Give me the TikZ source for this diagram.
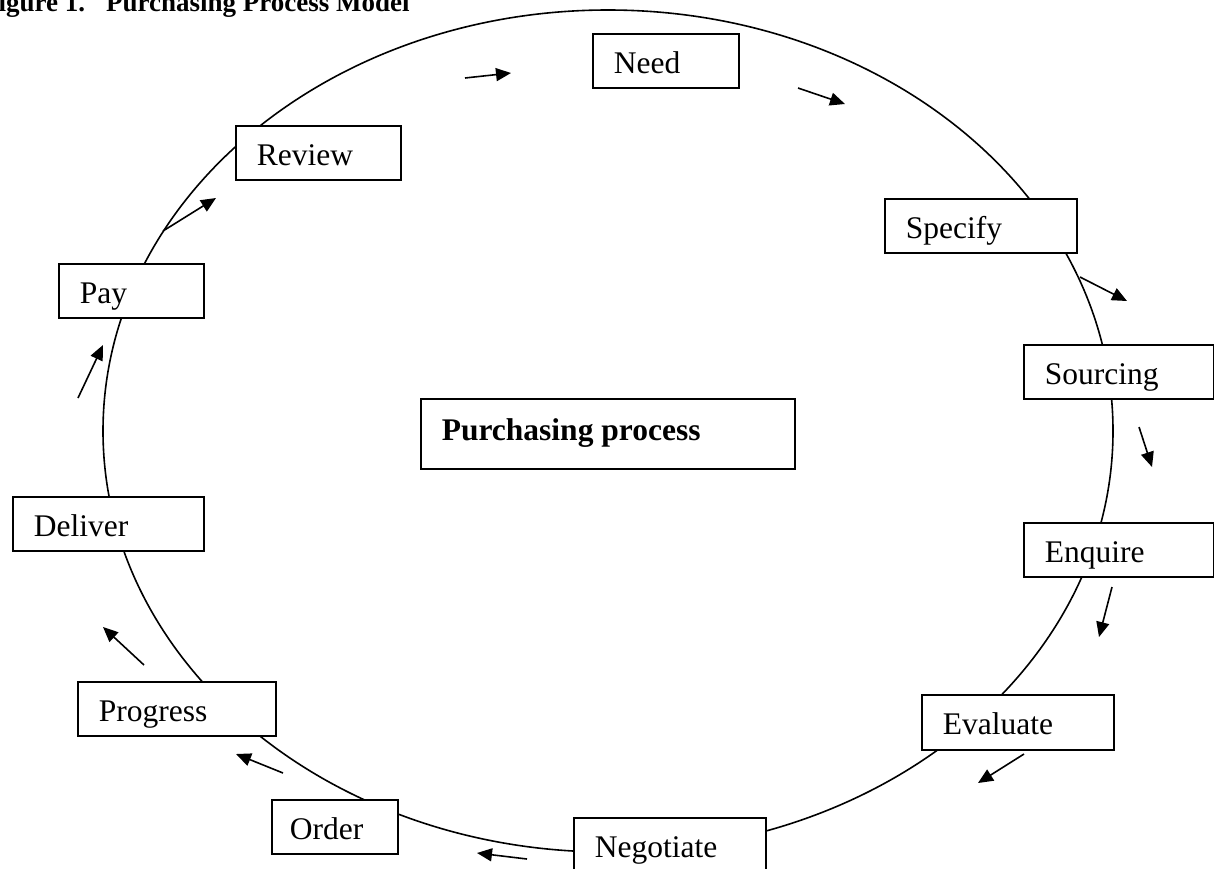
\documentclass[tikz,border=0pt]{standalone}
\usepackage{fontspec}
\setmainfont{Liberation Serif}
\usetikzlibrary{arrows.meta}
\newcommand\boxtxt[2]{\makebox[#1][l]{\hspace*{21pt}#2}}
\tikzset{
  lbl/.style={draw, line width=1.6pt, fill=white, anchor=north west, inner xsep=0pt, inner ysep=0pt,
    text height=40pt, text depth=14pt, font=\fontsize{31.5pt}{36pt}\selectfont},
  arr/.style={line width=1.6pt, -{Triangle[length=15pt,width=13pt]}},
  ring/.style={line width=1.6pt}
}
\begin{document}
\begin{tikzpicture}[x=1pt,y=-1pt]
\useasboundingbox (0,0) rectangle (1214,868);
\node[anchor=base west, inner sep=0pt, font=\fontsize{27pt}{30pt}\selectfont\bfseries] (title) at (-18,11) {Figure 1.\hspace{21pt}Purchasing Process Model};
\draw[ring] (608,431) ellipse [x radius=505, y radius=421];
\node[lbl] (need) at (592,33) {\boxtxt{146pt}{Need}};
\node[lbl] (specify) at (884,198) {\boxtxt{192pt}{Specify}};
\node[lbl] (sourcing) at (1023,344) {\boxtxt{190pt}{Sourcing}};
\node[lbl] (enquire) at (1023,522) {\boxtxt{190pt}{Enquire}};
\node[lbl, text depth=15pt] (evaluate) at (921,694) {\boxtxt{192pt}{Evaluate}};
\node[lbl, text depth=20pt] (negotiate) at (573,817) {\boxtxt{192pt}{Negotiate}};
\node[lbl] (order) at (271,799) {\boxtxt{126pt}{\hspace*{-3pt}Order}};
\node[lbl] (progress) at (77,681) {\boxtxt{198pt}{Progress}};
\node[lbl] (deliver) at (12,496) {\boxtxt{191pt}{Deliver}};
\node[lbl] (pay) at (58,263) {\boxtxt{145pt}{Pay}};
\node[lbl] (review) at (235,125) {\boxtxt{165pt}{Review}};
\node[lbl, text height=42pt, text depth=28pt, font=\fontsize{31.5pt}{36pt}\selectfont\bfseries] (center) at (420,398) {\boxtxt{374pt}{Purchasing process}};
% arrows
\coordinate (a1s) at (465,78);   \coordinate (a1e) at (511,73);
\coordinate (a2s) at (798,88);   \coordinate (a2e) at (845,104);
\coordinate (a3s) at (1080,277); \coordinate (a3e) at (1127,301);
\coordinate (a4s) at (1139,427); \coordinate (a4e) at (1152,467);
\coordinate (a5s) at (1112,587); \coordinate (a5e) at (1099,637);
\coordinate (a6s) at (1024,754); \coordinate (a6e) at (978,783);
\coordinate (a7s) at (527,859);  \coordinate (a7e) at (477,853);
\coordinate (a8s) at (283,773);  \coordinate (a8e) at (236,754);
\coordinate (a9s) at (144,665);  \coordinate (a9e) at (103,627);
\coordinate (a10s) at (78,398);  \coordinate (a10e) at (103,345);
\coordinate (a11s) at (163,231); \coordinate (a11e) at (216,198);
\foreach \i in {1,...,11} { \draw[arr] (a\i s) -- (a\i e); }
\end{tikzpicture}
\end{document}
